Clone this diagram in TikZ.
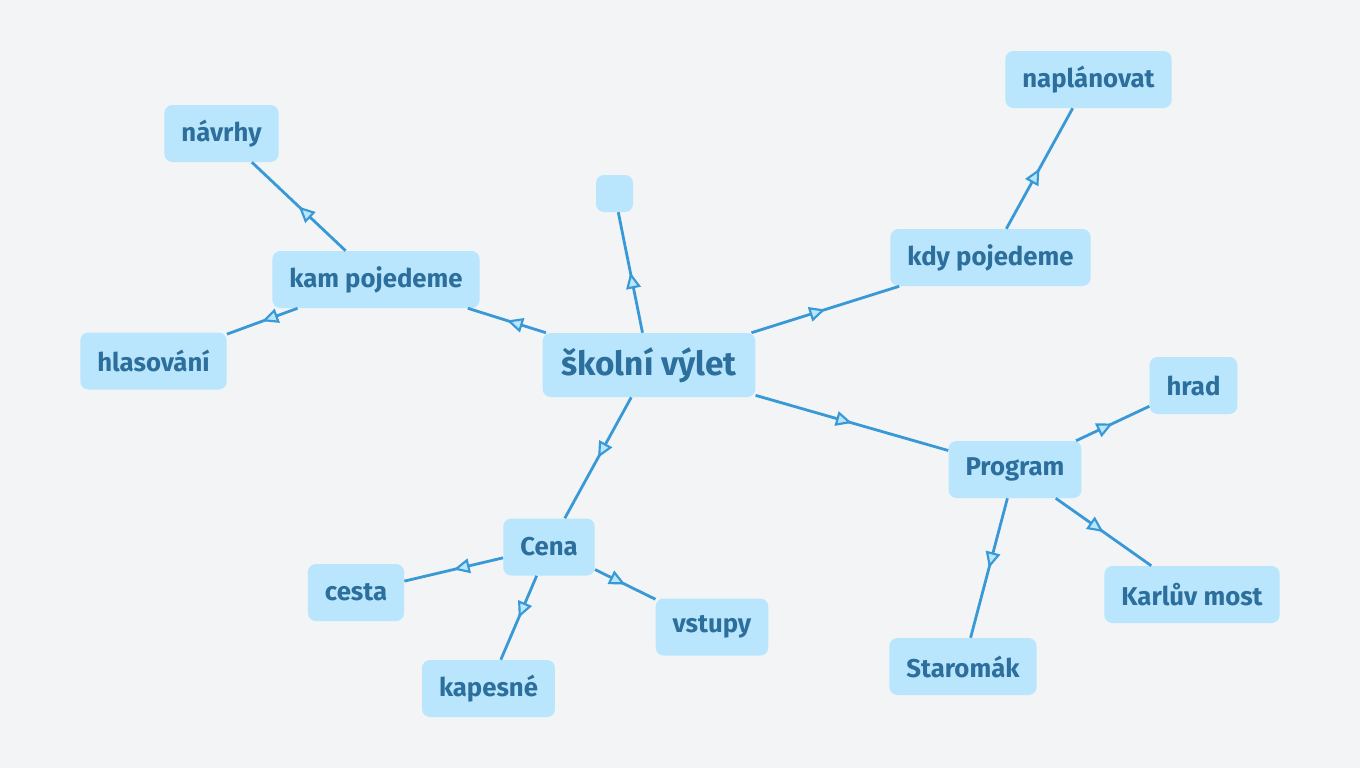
\documentclass[tikz,border=0pt]{standalone}
\usepackage{fontspec}
\setmainfont{Fira Sans}
\usetikzlibrary{arrows.meta,decorations.markings}
\definecolor{bg}{HTML}{F2F4F6}
\definecolor{nodefill}{HTML}{B9E6FD}
\definecolor{txt}{HTML}{2C6E9C}
\definecolor{edge}{HTML}{3899D6}
\tikzset{
  topic/.style={fill=nodefill, rounded corners=6pt, text=txt, font=\bfseries\fontsize{19.3}{22}\selectfont,
    minimum height=42.75pt, inner xsep=12.75pt, inner ysep=0pt},
  central/.style={topic, font=\bfseries\fontsize{25}{29}\selectfont, minimum height=48pt, inner xsep=14pt},
  link/.style={draw=edge, line width=2.1pt, postaction={decorate},
    decoration={markings, mark=at position 0.5 with {\arrow{Triangle[fill=nodefill, length=12pt, width=11pt, line width=1.6pt]}}}}
}
\begin{document}
\begin{tikzpicture}[x=0.75pt,y=-0.75pt]
\fill[bg] (0,0) rectangle (1360,768);
\useasboundingbox (0,0) rectangle (1360,768);
\node[central] (root) at (649,365) {školní výlet};
\node[topic, minimum width=27.75pt, minimum height=27.75pt, inner xsep=0pt] (empty) at (614.5,193.5) {};
\node[topic] (kam) at (376,279.5) {kam pojedeme};
\node[topic] (navrhy) at (221.5,133.5) {návrhy};
\node[topic] (hlas) at (153.5,361) {hlasování};
\node[topic] (kdy) at (990.5,257.5) {kdy pojedeme};
\node[topic] (napl) at (1088.5,79.5) {naplánovat};
\node[topic] (prog) at (1015,469.5) {Program};
\node[topic] (hrad) at (1193.5,385.5) {hrad};
\node[topic] (karl) at (1192,594.5) {Karlův most};
\node[topic] (star) at (963,666.5) {Staromák};
\node[topic] (cena) at (549,547) {Cena};
\node[topic] (cesta) at (356,592.5) {cesta};
\node[topic] (kap) at (488.5,688.5) {kapesné};
\node[topic] (vst) at (712,627) {vstupy};
\path[link] (root) -- (empty);
\path[link] (root) -- (kam);
\path[link] (kam) -- (navrhy);
\path[link] (kam) -- (hlas);
\path[link] (root) -- (kdy);
\path[link] (kdy) -- (napl);
\path[link] (root) -- (prog);
\path[link] (prog) -- (hrad);
\path[link] (prog) -- (karl);
\path[link] (prog) -- (star);
\path[link] (root) -- (cena);
\path[link] (cena) -- (cesta);
\path[link] (cena) -- (kap);
\path[link] (cena) -- (vst);
\end{tikzpicture}
\end{document}
